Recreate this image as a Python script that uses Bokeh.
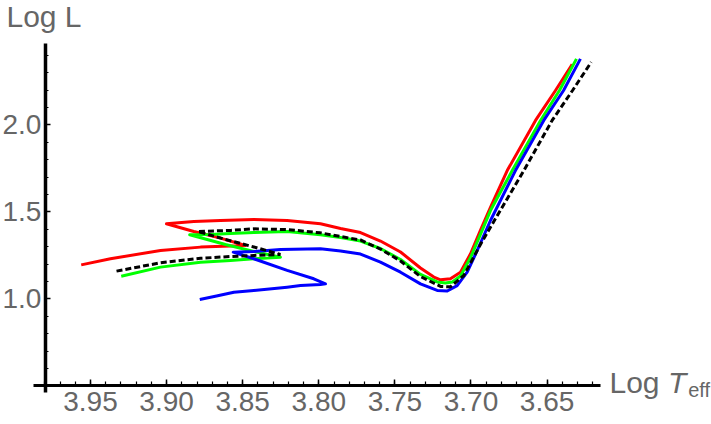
from bokeh.plotting import figure
from bokeh.models import Range1d, FixedTicker, PrintfTickFormatter, Label
from bokeh.embed import file_html
from bokeh.resources import INLINE

# ---- data: Log Teff / Log L tracks ----
red_T = [3.9561, 3.9369, 3.9040, 3.8777, 3.8580, 3.8482, 3.8646, 3.8821, 3.9001,
         3.8821, 3.8646, 3.8427, 3.8208, 3.7989, 3.7857, 3.7726, 3.7595, 3.7463,
         3.7332, 3.7244, 3.7200, 3.7135, 3.7069, 3.7003, 3.6938, 3.6872, 3.6762,
         3.6576, 3.6445, 3.6335]
red_L = [1.195, 1.230, 1.278, 1.297, 1.303, 1.306, 1.349, 1.387, 1.431,
         1.444, 1.450, 1.456, 1.450, 1.431, 1.404, 1.381, 1.332, 1.269,
         1.177, 1.125, 1.109, 1.115, 1.153, 1.259, 1.393, 1.526, 1.737,
         2.025, 2.197, 2.347]

green_T = [3.9298, 3.9040, 3.8777, 3.8580, 3.8427, 3.8252, 3.8427, 3.8613, 3.8848,
           3.8712, 3.8580, 3.8427, 3.8208, 3.7989, 3.7857, 3.7726, 3.7595, 3.7463,
           3.7332, 3.7222, 3.7168, 3.7122, 3.7069, 3.7003, 3.6938, 3.6872, 3.6729,
           3.6543, 3.6419, 3.6307]
green_L = [1.130, 1.182, 1.210, 1.220, 1.230, 1.239, 1.272, 1.312, 1.368,
           1.370, 1.375, 1.381, 1.387, 1.368, 1.352, 1.332, 1.289, 1.226,
           1.140, 1.097, 1.091, 1.097, 1.131, 1.237, 1.370, 1.507, 1.737,
           2.025, 2.197, 2.379]

blue_T = [3.8782, 3.8672, 3.8558, 3.8427, 3.8208, 3.8120, 3.7989, 3.7956, 3.8033,
          3.8208, 3.8427, 3.8562, 3.8427, 3.8252, 3.7989, 3.7857, 3.7726, 3.7595,
          3.7463, 3.7332, 3.7222, 3.7156, 3.7091, 3.7025, 3.6959, 3.6872, 3.6708,
          3.6522, 3.6392, 3.6281]
blue_L = [0.996, 1.016, 1.038, 1.048, 1.067, 1.076, 1.082, 1.086, 1.115,
          1.163, 1.230, 1.268, 1.272, 1.283, 1.287, 1.275, 1.257, 1.211,
          1.153, 1.086, 1.048, 1.045, 1.076, 1.153, 1.278, 1.450, 1.737,
          2.025, 2.197, 2.379]

black_T = [3.9329, 3.9040, 3.8777, 3.8580, 3.8427, 3.8252, 3.8427, 3.8613, 3.8795,
           3.8580, 3.8427, 3.8208, 3.7989, 3.7857, 3.7726, 3.7595, 3.7463, 3.7332,
           3.7200, 3.7135, 3.7047, 3.6938, 3.6839, 3.6653, 3.6467, 3.6333, 3.6210]
black_L = [1.159, 1.207, 1.233, 1.243, 1.249, 1.255, 1.298, 1.341, 1.387,
           1.393, 1.402, 1.398, 1.379, 1.358, 1.338, 1.286, 1.217, 1.128,
           1.071, 1.069, 1.134, 1.312, 1.461, 1.737, 2.025, 2.197, 2.360]

x_ticks = [3.65, 3.70, 3.75, 3.80, 3.85, 3.90, 3.95]
x_minor = [round(3.62 + 0.01 * i, 2) for i in range(37)]
y_ticks = [1.0, 1.5, 2.0]
y_minor = [round(0.6 + 0.1 * i, 1) for i in range(19)]

FONT = "Liberation Sans"
GRAY = "#666666"

p = figure(width=711, height=424, output_backend="svg", toolbar_location=None,
           x_range=Range1d(4.00913, 3.54198), y_range=Range1d(0.27759, 2.71437),
           min_border_left=0, min_border_right=0, min_border_top=0, min_border_bottom=0)
p.outline_line_color = None
p.grid.visible = False
p.background_fill_color = "white"

# axes crossing Mathematica-style
p.xaxis.fixed_location = 0.5
p.xaxis.bounds = (3.6149, 3.98745)
p.yaxis.fixed_location = 3.9796
p.yaxis.bounds = (0.46, 2.469)

p.xaxis.ticker = FixedTicker(ticks=x_ticks, minor_ticks=x_minor)
p.yaxis.ticker = FixedTicker(ticks=y_ticks, minor_ticks=y_minor)
p.xaxis.formatter = PrintfTickFormatter(format="%.2f")
p.yaxis.formatter = PrintfTickFormatter(format="%.1f")

for ax in (p.xaxis, p.yaxis):
    ax.axis_line_color = "black"
    ax.major_tick_out = 0
    ax.minor_tick_out = 0
    ax.major_tick_line_color = "black"
    ax.minor_tick_line_color = "black"
    ax.major_tick_line_width = 1.5
    ax.minor_tick_line_width = 1.2
    ax.major_label_text_font = FONT
    ax.major_label_text_font_size = "28px"
    ax.major_label_text_color = GRAY
    ax.axis_label = None

p.xaxis.axis_line_width = 3
p.yaxis.axis_line_width = 3.5
p.xaxis.major_tick_in = 6
p.xaxis.minor_tick_in = 4
p.yaxis.major_tick_in = 5
p.yaxis.minor_tick_in = 3
p.xaxis.major_label_standoff = 6
p.yaxis.major_label_standoff = 4

p.line(red_T, red_L, line_color="#FF0000", line_width=3, line_join="round")
p.line(green_T, green_L, line_color="#00FF00", line_width=3, line_join="round")
p.line(blue_T, blue_L, line_color="#0000FF", line_width=3, line_join="round")
p.line(black_T, black_L, line_color="black", line_width=3, line_dash="6 3")

p.add_layout(Label(x=4.0052, y=2.6237, text="Log L", text_font=FONT,
                   text_font_size="30px", text_color=GRAY, text_baseline="alphabetic"))
p.add_layout(Label(x=3.6090, y=0.5163, text="Log ", text_font=FONT,
                   text_font_size="30px", text_color=GRAY, text_baseline="alphabetic"))
p.add_layout(Label(x=3.5706, y=0.5163, text="T", text_font=FONT, text_font_style="italic",
                   text_font_size="30px", text_color=GRAY, text_baseline="alphabetic"))
p.add_layout(Label(x=3.5573, y=0.4730, text="eff", text_font=FONT,
                   text_font_size="20px", text_color=GRAY, text_baseline="alphabetic"))

open("out.html", "w").write(file_html(p, INLINE))
